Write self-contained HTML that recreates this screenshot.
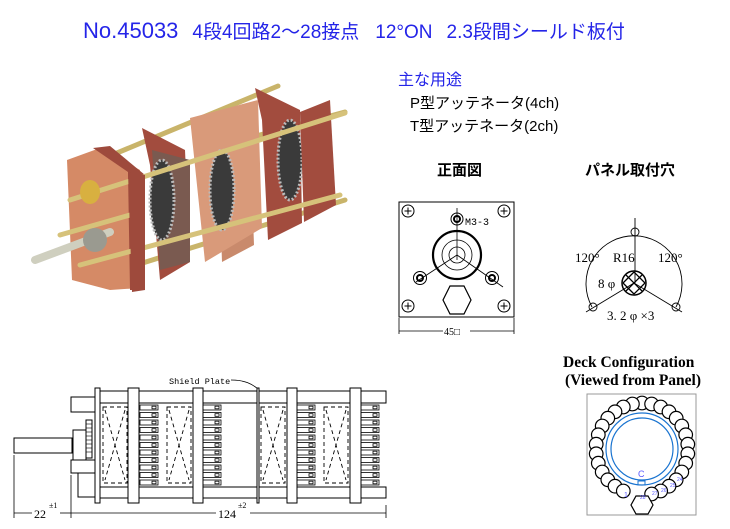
<!DOCTYPE html>
<html><head><meta charset="utf-8"><style>
html,body{margin:0;padding:0;background:#fff;}
svg{display:block;}
</style></head><body>
<svg width="730" height="529" viewBox="0 0 730 529" xmlns="http://www.w3.org/2000/svg">
<defs>
<g id="col">
<g fill="#fff" stroke="#000" stroke-width="0.8">
<rect x="0" y="0" width="18" height="5"/><rect x="12" y="1.2" width="4" height="2.6"/>
<rect x="0" y="7.5" width="18" height="5"/><rect x="12" y="8.7" width="4" height="2.6"/>
<rect x="0" y="15" width="18" height="5"/><rect x="12" y="16.2" width="4" height="2.6"/>
<rect x="0" y="22.5" width="18" height="5"/><rect x="12" y="23.7" width="4" height="2.6"/>
<rect x="0" y="30" width="18" height="5"/><rect x="12" y="31.2" width="4" height="2.6"/>
<rect x="0" y="37.5" width="18" height="5"/><rect x="12" y="38.7" width="4" height="2.6"/>
<rect x="0" y="45" width="18" height="5"/><rect x="12" y="46.2" width="4" height="2.6"/>
<rect x="0" y="52.5" width="18" height="5"/><rect x="12" y="53.7" width="4" height="2.6"/>
<rect x="0" y="60" width="18" height="5"/><rect x="12" y="61.2" width="4" height="2.6"/>
<rect x="0" y="67.5" width="18" height="5"/><rect x="12" y="68.7" width="4" height="2.6"/>
<rect x="0" y="75" width="18" height="5"/><rect x="12" y="76.2" width="4" height="2.6"/>
</g></g>
<g id="dbox" fill="none" stroke="#000" stroke-width="0.9" stroke-dasharray="4,3">
<rect x="0" y="0" width="24" height="76"/>
<line x1="2" y1="3" x2="22" y2="73"/><line x1="22" y1="3" x2="2" y2="73"/>
</g>
<g id="scr" fill="#fff" stroke="#000" stroke-width="1">
<circle r="6"/><line x1="-3.5" y1="0" x2="3.5" y2="0"/><line x1="0" y1="-3.5" x2="0" y2="3.5"/>
</g>
</defs>

<!-- Title -->
<text x="83" y="38" font-family="Liberation Sans, Noto Sans CJK JP, sans-serif" fill="#2424e8"><tspan font-size="22">No.45033</tspan><tspan font-size="19" dx="14">4段4回路2～28接点</tspan><tspan font-size="19" dx="16">12°ON</tspan><tspan font-size="19" dx="14">2.3段間シールド板付</tspan></text>

<!-- Usage -->
<text x="398" y="85" font-family="Liberation Sans, Noto Sans CJK JP, sans-serif" font-size="16" fill="#2424e8">主な用途</text>
<text x="410" y="108" font-family="Liberation Sans, Noto Sans CJK JP, sans-serif" font-size="15" fill="#000">P型アッテネータ(4ch)</text>
<text x="410" y="131" font-family="Liberation Sans, Noto Sans CJK JP, sans-serif" font-size="15" fill="#000">T型アッテネータ(2ch)</text>

<!-- Photo approximation -->
<g>
<g stroke="#c9b46a" stroke-width="5" stroke-linecap="round">
<line x1="100" y1="160" x2="278" y2="86"/>
<line x1="230" y1="143" x2="345" y2="112"/>
<line x1="120" y1="270" x2="345" y2="200"/>
</g>
<polygon points="255,88 300,110 302,223 268,240 262,120" fill="#a24c3e"/>
<polygon points="210,115 250,133 254,245 222,262 218,145" fill="#c98a6c"/>
<polygon points="190,118 258,100 262,228 205,262" fill="#d99a7a"/>
<polygon points="142,128 185,150 190,262 160,280 150,165" fill="#a24c3e"/>
<polygon points="152,150 190,160 190,262 160,270" fill="#7a5a50"/>
<polygon points="67,160 100,148 140,170 140,288 110,290 72,280" fill="#d58a66"/>
<polygon points="93,148 110,146 145,175 143,290 130,290 128,172" fill="#9e4a3c"/>
<ellipse cx="162" cy="200" rx="12" ry="40" fill="#3a3a3a" stroke="#bbb" stroke-width="3" stroke-dasharray="2,2"/>
<ellipse cx="222" cy="190" rx="12" ry="40" fill="#3a3a3a" stroke="#bbb" stroke-width="3" stroke-dasharray="2,2"/>
<ellipse cx="290" cy="160" rx="12" ry="40" fill="#3a3a3a" stroke="#bbb" stroke-width="3" stroke-dasharray="2,2"/>
<polygon points="300,112 330,100 336,205 304,222" fill="#a24c3e"/>
<g stroke="#d6c27a" stroke-width="5" stroke-linecap="round">
<line x1="70" y1="200" x2="345" y2="113"/>
<line x1="80" y1="265" x2="340" y2="195"/>
<line x1="60" y1="235" x2="130" y2="215"/>
</g>
<line x1="35" y1="260" x2="110" y2="232" stroke="#cfcfbf" stroke-width="8" stroke-linecap="round"/>
<circle cx="95" cy="240" r="12" fill="#9a9a90"/>
<ellipse cx="90" cy="192" rx="10" ry="12" fill="#d8b040"/>
<polygon points="128,172 145,175 145,290 132,292" fill="#9e4a3c"/>
</g>

<!-- Front view -->
<text x="437" y="175" font-family="Liberation Sans, Noto Sans CJK JP, sans-serif" font-size="15" font-weight="bold">正面図</text>
<rect x="399" y="202" width="115" height="115" fill="#fff" stroke="#000" stroke-width="1"/>
<use href="#scr" x="408" y="211"/><use href="#scr" x="504" y="211"/>
<use href="#scr" x="408" y="306"/><use href="#scr" x="504" y="306"/>
<g fill="none" stroke="#000">
<line x1="457" y1="208" x2="457" y2="260" stroke-width="0.8"/>
<circle cx="457" cy="219" r="6" stroke-width="1"/><circle cx="457" cy="219" r="3" stroke-width="2"/>
<circle cx="457" cy="255" r="24" stroke-width="2.2"/>
<circle cx="457" cy="255" r="15" stroke-width="0.8"/>
<circle cx="457" cy="255" r="8" stroke-width="0.8"/>
<line x1="457" y1="255" x2="416" y2="282" stroke-width="0.8"/>
<line x1="457" y1="255" x2="503" y2="287" stroke-width="0.8"/>
<circle cx="420" cy="278" r="6.5" stroke-width="1"/><circle cx="420" cy="278" r="3" stroke-width="2"/>
<circle cx="492" cy="278" r="6.5" stroke-width="1"/><circle cx="492" cy="278" r="3" stroke-width="2"/>
<polygon points="450,286 464,286 471,300 464,314 450,314 443,300" stroke-width="1.2"/>
<line x1="399" y1="318" x2="399" y2="334" stroke-width="0.8"/><line x1="514" y1="318" x2="514" y2="334" stroke-width="0.8"/>
<line x1="399" y1="331" x2="443" y2="331" stroke-width="0.8"/><line x1="470" y1="331" x2="514" y2="331" stroke-width="0.8"/>
</g>
<text x="465" y="225" font-family="Liberation Mono, monospace" font-size="10">M3-3</text>
<text x="444" y="335" font-family="Liberation Serif, Noto Serif CJK SC, serif" font-size="10">45□</text>

<!-- Panel -->
<text x="585" y="175" font-family="Liberation Sans, Noto Sans CJK JP, sans-serif" font-size="15" font-weight="bold">パネル取付穴</text>
<g fill="none" stroke="#000" stroke-width="0.9">
<path d="M592,307 A48,48 0 1 1 676,307"/>
<line x1="635" y1="218" x2="635" y2="283"/>
<line x1="634" y1="283" x2="586" y2="312"/>
<line x1="634" y1="283" x2="682" y2="312"/>
<circle cx="635" cy="232" r="4"/>
<circle cx="593" cy="307" r="4"/><circle cx="676" cy="307" r="4"/>
<circle cx="634" cy="283" r="12" stroke-width="1.5"/>
<path d="M626,275 L642,291 M634,272 L645,283 M623,283 L634,294 M642,275 L626,291 M645,283 L634,272 M634,294 L645,283 M623,283 L634,272" stroke-width="1.3"/>
</g>
<g font-family="Liberation Serif, serif" font-size="13">
<text x="575" y="262">120°</text><text x="613" y="262">R16</text><text x="658" y="262">120°</text>
<text x="598" y="288">8 φ</text><text x="607" y="320">3. 2 φ ×3</text>
</g>

<!-- Side drawing -->
<text x="169" y="384" font-family="Liberation Mono, monospace" font-size="8.5">Shield Plate</text>
<path d="M231,380 C245,380 252,384 258,389" fill="none" stroke="#000" stroke-width="0.8"/>
<g fill="#fff" stroke="#000" stroke-width="1">
<rect x="14" y="438" width="58" height="15"/>
<rect x="71" y="397" width="29" height="15"/>
<rect x="71" y="460" width="29" height="13"/>
<rect x="78" y="473" width="22" height="24"/>
<rect x="73" y="430" width="13" height="30"/>
<rect x="86" y="420" width="6" height="38"/>
<rect x="100" y="391" width="286" height="12"/>
<rect x="100" y="487" width="286" height="11"/>
</g>
<g stroke="#000" stroke-width="0.6"><line x1="86" y1="424" x2="92" y2="424"/><line x1="86" y1="428" x2="92" y2="428"/><line x1="86" y1="432" x2="92" y2="432"/><line x1="86" y1="436" x2="92" y2="436"/><line x1="86" y1="440" x2="92" y2="440"/><line x1="86" y1="444" x2="92" y2="444"/><line x1="86" y1="448" x2="92" y2="448"/><line x1="86" y1="452" x2="92" y2="452"/></g>
<use href="#dbox" x="103" y="407"/><use href="#dbox" x="167" y="407"/>
<use href="#dbox" x="261" y="407"/><use href="#dbox" x="324" y="407"/>
<use href="#col" x="140" y="405"/><use href="#col" x="203" y="405"/>
<use href="#col" x="297" y="405"/><use href="#col" x="361" y="405"/>
<g fill="#fff" stroke="#000" stroke-width="1">
<rect x="95" y="388" width="5" height="115"/>
<rect x="128" y="388" width="11" height="115"/>
<rect x="193" y="388" width="10" height="115"/>
<rect x="257" y="388" width="2" height="115"/>
<rect x="287" y="388" width="10" height="115"/>
<rect x="350" y="388" width="11" height="115"/>
</g>
<g stroke="#000" stroke-width="0.8" fill="none">
<line x1="14" y1="455" x2="14" y2="518"/><line x1="71" y1="475" x2="71" y2="518"/><line x1="386" y1="505" x2="386" y2="518"/>
<line x1="14" y1="513" x2="32" y2="513"/><line x1="60" y1="513" x2="71" y2="513"/>
<line x1="71" y1="513" x2="216" y2="513"/><line x1="250" y1="513" x2="386" y2="513"/>
</g>
<g font-family="Liberation Serif, serif" fill="#000">
<text x="34" y="518" font-size="12">22</text><text x="49" y="508" font-size="8">±1</text>
<text x="218" y="518" font-size="12">124</text><text x="238" y="508" font-size="8">±2</text>
</g>

<!-- Deck configuration -->
<text x="563" y="367" font-family="Liberation Serif, serif" font-size="15.5" font-weight="bold">Deck Configuration</text>
<text x="565" y="385" font-family="Liberation Serif, serif" font-size="15.5" font-weight="bold">(Viewed from Panel)</text>
<rect x="587" y="394" width="109" height="121" fill="#fff" stroke="#999" stroke-width="1"/>
<g fill="none" stroke="#1a74d0" stroke-width="1.2">
<circle cx="642" cy="449" r="36"/><circle cx="642" cy="449" r="31"/>
</g>
<g fill="#fff" stroke="#000" stroke-width="1.2">
<circle cx="642" cy="403" r="6.8"/>
<circle cx="651.6" cy="404" r="6.8"/><circle cx="660.7" cy="407" r="6.8"/><circle cx="669" cy="411.8" r="6.8"/><circle cx="676.2" cy="418.2" r="6.8"/><circle cx="681.8" cy="426" r="6.8"/><circle cx="685.7" cy="434.8" r="6.8"/><circle cx="687.8" cy="444.2" r="6.8"/><circle cx="687.8" cy="453.8" r="6.8"/><circle cx="685.7" cy="463.2" r="6.8"/><circle cx="681.8" cy="472" r="6.8"/><circle cx="676.2" cy="479.8" r="6.8"/><circle cx="669" cy="486.2" r="6.8"/><circle cx="660.7" cy="491" r="6.8"/><circle cx="651.6" cy="494" r="6.8"/>
<circle cx="632.4" cy="404" r="6.8"/><circle cx="623.3" cy="407" r="6.8"/><circle cx="615" cy="411.8" r="6.8"/><circle cx="607.8" cy="418.2" r="6.8"/><circle cx="602.2" cy="426" r="6.8"/><circle cx="598.3" cy="434.8" r="6.8"/><circle cx="596.2" cy="444.2" r="6.8"/><circle cx="596.2" cy="453.8" r="6.8"/><circle cx="598.3" cy="463.2" r="6.8"/><circle cx="602.2" cy="472" r="6.8"/><circle cx="607.8" cy="479.8" r="6.8"/><circle cx="615" cy="486.2" r="6.8"/><circle cx="623.3" cy="491" r="6.8"/>
<polygon points="636,496 648,496 653,505 648,514 636,514 631,505"/>
</g>
<rect x="638" y="481" width="7" height="4" fill="none" stroke="#1a74d0"/>
<g font-family="Liberation Sans, sans-serif" fill="#5a5aff">
<text x="638" y="477" font-size="9">C</text>
<text x="624" y="497" font-size="7">1</text>
<text x="652" y="495" font-size="5">27</text><text x="661" y="492" font-size="5">26</text>
<text x="670" y="487" font-size="5">25</text><text x="677" y="481" font-size="5">24</text>
<text x="640" y="499" font-size="5">28</text>
</g>
</svg>
</body></html>
